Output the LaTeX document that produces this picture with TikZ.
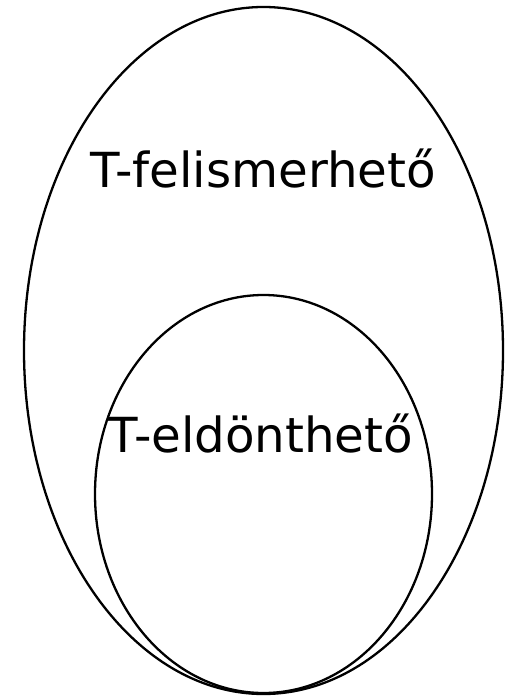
\documentclass[tikz,border=0pt]{standalone}
\usepackage{fontspec}
\setmainfont{DejaVu Sans}
\tikzset{
  set/.style={draw=black, line width=2.3pt},
  lbl/.style={anchor=base, inner sep=0pt, font=\fontsize{48.3}{50}\selectfont}
}
\begin{document}
\begin{tikzpicture}[x=1pt,y=-1pt]
\useasboundingbox (0,0) rectangle (513,698);
\draw[set] (263.5,350.5) ellipse [x radius=239.5, y radius=343.5];
\draw[set] (263.5,494) ellipse [x radius=168.5, y radius=199];
\node[lbl] (felis) at (263,187) {T-felismerhető};
\node[lbl] (eld) at (261,452) {T-eldönthető};
\end{tikzpicture}
\end{document}
